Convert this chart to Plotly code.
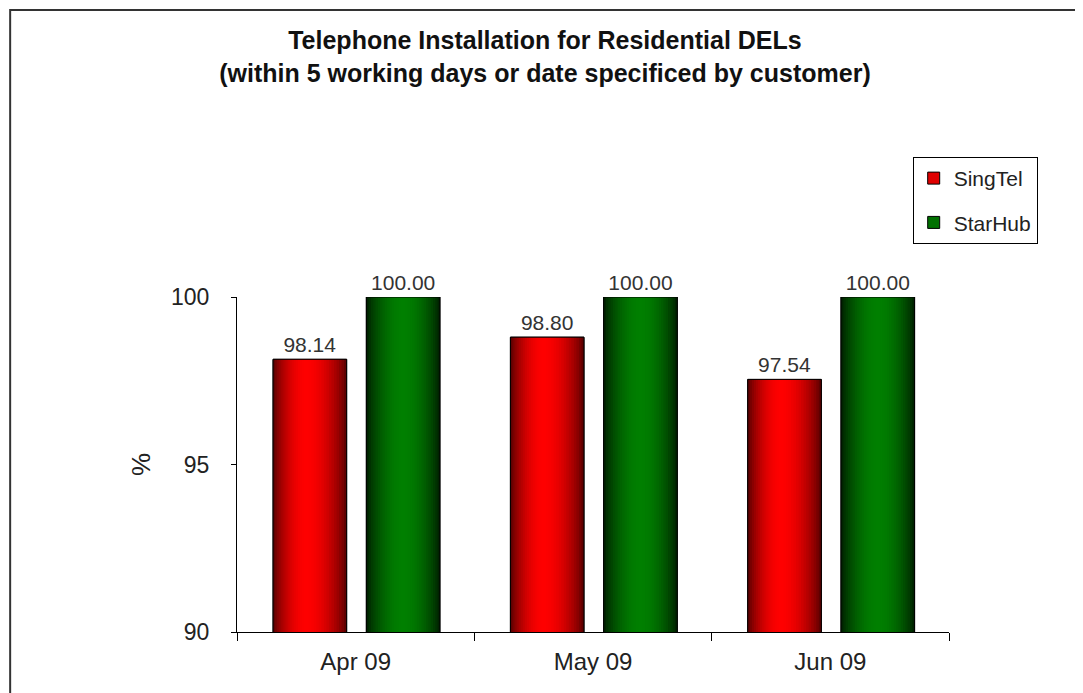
import plotly.graph_objects as go
import math

months = ["Apr 09", "May 09", "Jun 09"]
singtel = [98.14, 98.80, 97.54]
starhub = [100.00, 100.00, 100.00]
series_names = ["SingTel", "StarHub"]

# styling
FONT = "Liberation Sans, Arial, sans-serif"
W = 0.31
offsets = {"SingTel": -0.348, "StarHub": 0.045}
highlight = {"SingTel": 0.45, "StarHub": 0.5}
dark = {"SingTel": (95, 0, 0), "StarHub": (0, 35, 0)}
bright = {"SingTel": (255, 0, 0), "StarHub": (0, 128, 0)}
legend_col = {"SingTel": "#E00000", "StarHub": "#007000"}
N = 16

fig = go.Figure()
for name, vals in zip(series_names, [singtel, starhub]):
    off = offsets[name]
    # legend / base trace
    fig.add_trace(go.Bar(x=months, y=vals, name=name, legendgroup=name,
                         width=W, offset=off, marker_color=legend_col[name],
                         marker_line=dict(color="black", width=1),
                         hoverinfo="skip"))
    L, R = 0.0, W
    h = W * highlight[name]
    for k in range(N):
        t = k / N
        left = L + t * (h - L)
        right = R - t * (R - h)
        s = math.sin(t * math.pi / 2) ** 0.8
        c = tuple(int(d + (b - d) * s) for d, b in zip(dark[name], bright[name]))
        fig.add_trace(go.Bar(x=months, y=vals, legendgroup=name, showlegend=False,
                             width=right - left, offset=off + left,
                             marker_color="rgb(%d,%d,%d)" % c, marker_line_width=0,
                             hoverinfo="skip"))
    # outline + labels
    fig.add_trace(go.Bar(x=months, y=vals, legendgroup=name, showlegend=False,
                         width=W, offset=off, marker_color="rgba(0,0,0,0)",
                         marker_line=dict(color="black", width=1),
                         text=[f"{v:.2f}" for v in vals], textposition="outside",
                         textfont=dict(family=FONT, size=21, color="#333333"),
                         cliponaxis=False))

fig.update_layout(
    barmode="overlay",
    width=1075, height=685,
    margin=dict(l=229, r=133.5, t=289, b=61),
    paper_bgcolor="white", plot_bgcolor="white",
    font=dict(family=FONT, color="#222222"),
    title=dict(text="<b>Telephone Installation for Residential DELs<br>(within 5 working days or date specificed by customer)</b>",
               x=0.4995, xanchor="center", y=0.94, yanchor="top", yref="container",
               font=dict(family=FONT, size=25, color="#111111")),
    showlegend=True,
    legend=dict(x=0.949, y=1.418, xanchor="left", yanchor="top",
                bordercolor="black", borderwidth=1, bgcolor="white",
                font=dict(family=FONT, size=21, color="#222222"),
                traceorder="grouped", tracegroupgap=14, itemwidth=30),
    xaxis=dict(showline=True, linecolor="black", linewidth=1, ticks="outside",
               tickson="boundaries", ticklen=8, tickcolor="black", ticklabelstandoff=8,
               tickfont=dict(family=FONT, size=24, color="#222222"), showgrid=False),
    yaxis=dict(range=[90, 100], tickvals=[90, 95, 100], showline=True, linecolor="black",
               linewidth=1, ticks="outside", ticklen=5, tickcolor="black", showgrid=False,
               zeroline=False, ticklabelstandoff=17,
               tickfont=dict(family=FONT, size=23, color="#222222"),
               title=dict(text="%", standoff=12, font=dict(family=FONT, size=26, color="#222222"))),
    shapes=[dict(type="rect", xref="paper", yref="paper",
                 x0=(10 - 237) / 712.5, x1=1.25, y0=-0.3, y1=(632 - 10) / 335,
                 line=dict(color="#333333", width=2), fillcolor="rgba(0,0,0,0)", layer="below")],
)

fig.write_html("out.html")
